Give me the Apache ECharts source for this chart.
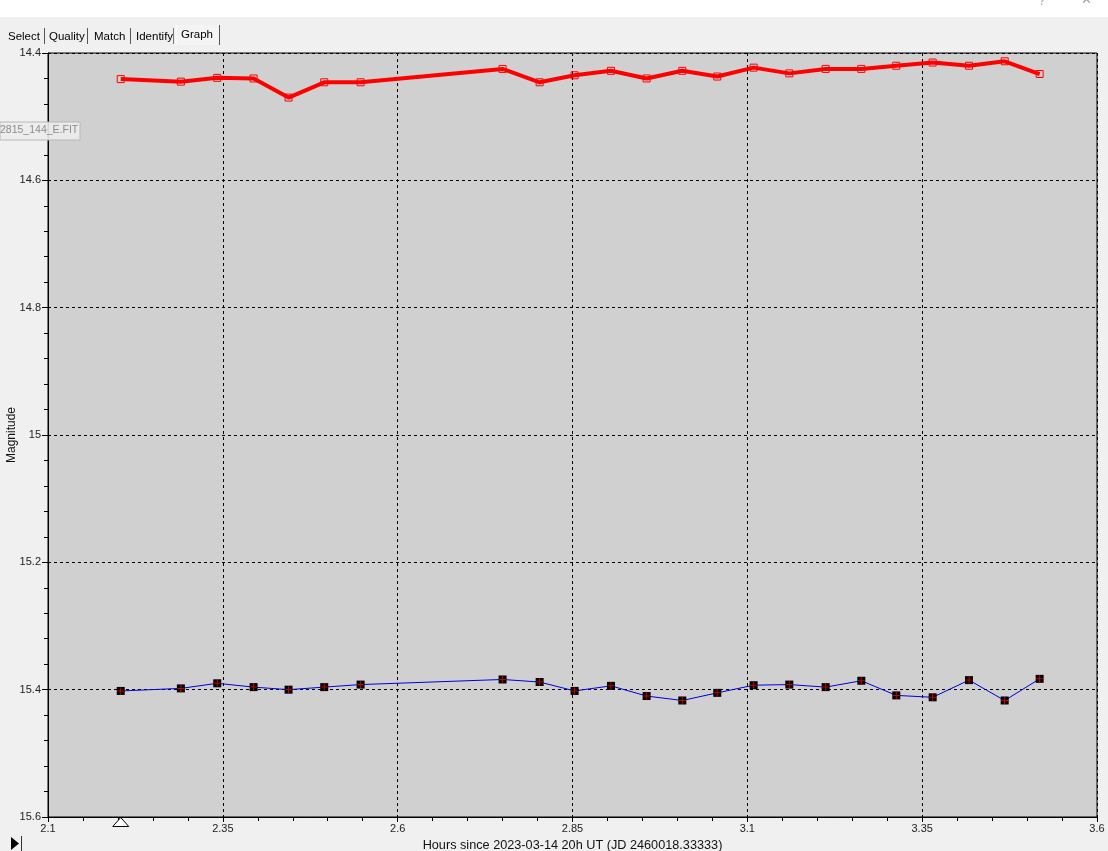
<!DOCTYPE html>
<html>
<head>
<meta charset="utf-8">
<script src="https://cdn.jsdelivr.net/npm/echarts@6/dist/echarts.min.js"></script>
<style>
html,body{margin:0;padding:0;background:#f0f0f0;}
#c{width:1108px;height:851px;}
</style>
</head>
<body>
<div id="c"></div>
<script>
// Observation times (hours since 2023-03-14 20h UT)
var hours = [2.204, 2.290, 2.342, 2.394, 2.444, 2.495, 2.547, 2.750, 2.803, 2.853, 2.905, 2.956,
             3.007, 3.057, 3.109, 3.160, 3.212, 3.263, 3.313, 3.365, 3.417, 3.468, 3.518];
// Red series magnitudes (upper curve)
var redMag = [14.441, 14.445, 14.439, 14.440, 14.470, 14.446, 14.446, 14.425, 14.446, 14.435, 14.428, 14.440,
              14.428, 14.437, 14.423, 14.432, 14.425, 14.425, 14.420, 14.415, 14.420, 14.413, 14.433];
// Blue series magnitudes (lower curve)
var blueMag = [15.402, 15.398, 15.390, 15.396, 15.400, 15.396, 15.392, 15.384, 15.388, 15.402, 15.394, 15.410,
               15.417, 15.405, 15.393, 15.392, 15.396, 15.386, 15.409, 15.412, 15.385, 15.417, 15.383];
// Axis ranges / ticks
var xMin = 2.1, xMax = 3.6, xStep = 0.25;
var yMin = 14.4, yMax = 15.6, yStep = 0.2;
var xTitle = 'Hours since 2023-03-14 20h UT (JD 2460018.33333)';
var yTitle = 'Magnitude';
var tabs = ['Select', 'Quality', 'Match', 'Identify', 'Graph'];
var fileLabel = '2815_144_E.FIT';

function pairs(xs, ys) { return xs.map(function (x, i) { return [x, ys[i]]; }); }
function fmt(v) { return String(parseFloat(v.toFixed(3))); }

var chart = echarts.init(document.getElementById('c'), null, { renderer: 'canvas' });
var FONT = 'Liberation Sans';

var tabX = [8, 49, 94, 136, 181];
var graphics = [
  { type: 'rect', id: 'topwhite', shape: { x: 0, y: 0, width: 1108, height: 17 }, style: { fill: '#ffffff' }, z: -10 },
  { type: 'text', id: 'q', x: 1038, y: -6, style: { text: '?', fill: '#b0b0b0', font: '14px ' + FONT } },
  { type: 'text', id: 'xx', x: 1081, y: -6, style: { text: '✕', fill: '#a0a0a0', font: '13px ' + FONT } },
  // selected tab box
  { type: 'rect', id: 'seltab', shape: { x: 176, y: 25, width: 43, height: 20 }, style: { fill: '#f4f4f4', stroke: null } },
  { type: 'line', id: 'selL', shape: { x1: 176, y1: 25, x2: 176, y2: 45 }, style: { stroke: '#ffffff', lineWidth: 1 } },
  { type: 'line', id: 'selR', shape: { x1: 219.5, y1: 25, x2: 219.5, y2: 45 }, style: { stroke: '#555', lineWidth: 1 } },
  { type: 'line', id: 's1', shape: { x1: 44.5, y1: 28, x2: 44.5, y2: 44 }, style: { stroke: '#555', lineWidth: 1 } },
  { type: 'line', id: 's2', shape: { x1: 87.5, y1: 28, x2: 87.5, y2: 44 }, style: { stroke: '#555', lineWidth: 1 } },
  { type: 'line', id: 's3', shape: { x1: 130.5, y1: 28, x2: 130.5, y2: 44 }, style: { stroke: '#555', lineWidth: 1 } },
  { type: 'line', id: 's4', shape: { x1: 173.5, y1: 28, x2: 173.5, y2: 44 }, style: { stroke: '#777', lineWidth: 1 } },
  // file label box
  { type: 'rect', id: 'fbox', shape: { x: 0, y: 122, width: 80, height: 18 }, style: { fill: 'rgba(236,236,236,0.9)', stroke: '#b8b8b8', lineWidth: 1 }, z: 5 },
  { type: 'text', id: 'ftxt', x: 0, y: 125, style: { text: fileLabel, fill: '#8c8c8c', font: '10.5px ' + FONT, align: 'left' }, z: 6 },
  // play button bottom-left
  { type: 'polygon', id: 'play', shape: { points: [[11, 837], [19, 843.5], [11, 850]] }, style: { fill: '#000' } },
  { type: 'line', id: 'playbar', shape: { x1: 21.5, y1: 836, x2: 21.5, y2: 851 }, style: { stroke: '#333', lineWidth: 1 } }
];
tabs.forEach(function (t, i) {
  graphics.push({ type: 'text', id: 'tab' + i, x: tabX[i], y: (i === 4 ? 29 : 31),
    style: { text: t, fill: '#000', font: '11.5px ' + FONT } });
});

var option = {
  animation: false,
  backgroundColor: '#f0f0f0',
  grid: { left: 48, right: 11, top: 53, bottom: 34, containLabel: false, outerBoundsMode: 'none',
          show: true, backgroundColor: '#d0d0d0', borderColor: '#000', borderWidth: 1 },
  xAxis: {
    type: 'value', min: xMin, max: xMax, interval: xStep,
    name: xTitle, nameLocation: 'middle', nameGap: 20,
    nameTextStyle: { fontFamily: FONT, fontSize: 12.7, color: '#111' },
    axisLine: { show: true, lineStyle: { color: '#000', width: 1 } },
    axisTick: { show: true, length: 5, lineStyle: { color: '#000' } },
    minorTick: { show: true, splitNumber: 5, length: 4, lineStyle: { color: '#000' } },
    axisLabel: { fontFamily: FONT, fontSize: 11, color: '#222', margin: 6, formatter: fmt },
    splitLine: { show: true, lineStyle: { color: '#000', type: [3, 3], width: 1 } }
  },
  yAxis: {
    type: 'value', inverse: true, min: yMin, max: yMax, interval: yStep,
    name: yTitle, nameLocation: 'middle', nameGap: 30, nameMoveOverlap: false,
    nameTextStyle: { fontFamily: FONT, fontSize: 12, color: '#111' },
    axisLine: { show: true, lineStyle: { color: '#000', width: 1 } },
    axisTick: { show: true, length: 6, lineStyle: { color: '#000' } },
    minorTick: { show: true, splitNumber: 5, length: 4, lineStyle: { color: '#000' } },
    axisLabel: { fontFamily: FONT, fontSize: 11, color: '#222', margin: 7, formatter: fmt },
    splitLine: { show: true, lineStyle: { color: '#000', type: [3, 3], width: 1 } }
  },
  graphic: graphics,
  series: [
    {
      type: 'line', name: 'red', data: pairs(hours, redMag),
      symbol: 'rect', symbolSize: 7, showSymbol: true,
      lineStyle: { color: '#ff0000', width: 4 },
      itemStyle: { color: 'rgba(0,0,0,0)', borderColor: '#ff0000', borderWidth: 1 },
      emphasis: { disabled: true }, z: 3
    },
    {
      type: 'line', name: 'blue', data: pairs(hours, blueMag),
      symbol: 'rect', symbolSize: 8, showSymbol: true,
      lineStyle: { color: '#0000e0', width: 1 },
      itemStyle: { color: '#000000' },
      emphasis: { disabled: true }, z: 3
    },
    {
      type: 'scatter', name: 'bluePlus', data: pairs(hours, blueMag),
      symbol: 'path://M3,0h1v3h3v1h-3v3h-1v-3h-3v-1h3z', symbolSize: 7,
      itemStyle: { color: '#ff0000' },
      emphasis: { disabled: true }, z: 4
    }
  ]
};
chart.setOption(option);

// cursor triangle under the first observation, placed through the x scale
var p = chart.convertToPixel({ gridIndex: 0 }, [hours[0], yMax]);
chart.setOption({
  graphic: [{ type: 'polygon', id: 'cursor', shape: { points: [[p[0], p[1] + 0.5], [p[0] - 8, p[1] + 9.5], [p[0] + 8, p[1] + 9.5]] },
    style: { fill: '#ffffff', stroke: '#000', lineWidth: 1 }, z: 10 }]
});
</script>
</body>
</html>
